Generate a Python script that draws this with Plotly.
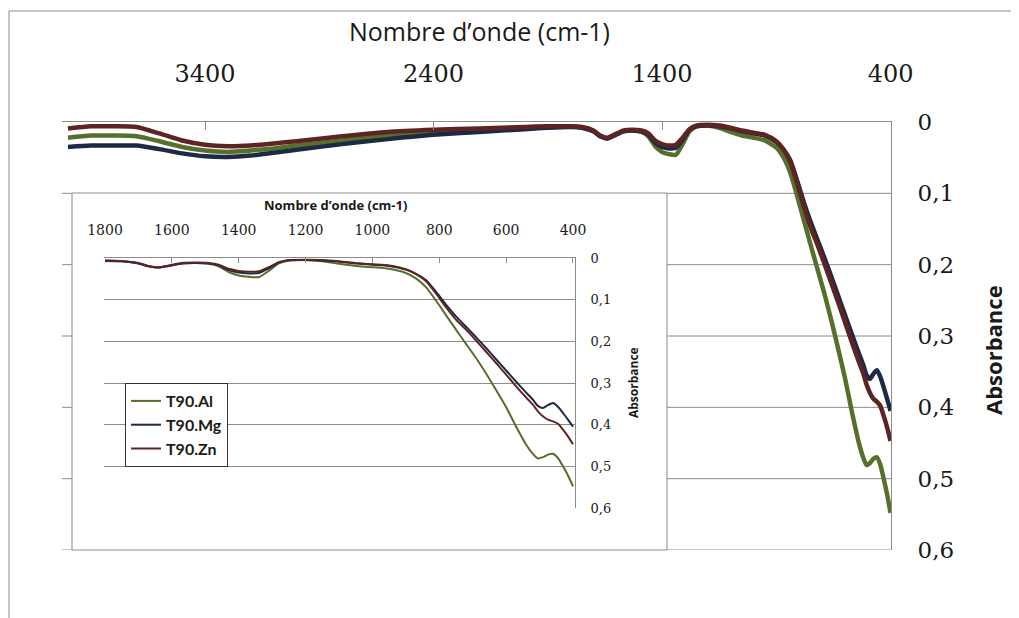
import plotly.graph_objects as go

# page body adds an 8px margin; the figure is sized to fit the 1019x618 window
OFF = 8
W, H = 1019 - OFF, 618 - OFF

# ---------------- data ----------------
wavenumber = [4000, 3900, 3800, 3700, 3600, 3500, 3400, 3300, 3200, 3100, 3000,
              2800, 2600, 2400, 2200, 2000,
              1900, 1800,
              1750, 1700, 1670, 1640, 1610, 1570, 1530, 1490, 1460, 1430,
              1400, 1370, 1340, 1310, 1280, 1250,
              1200, 1150, 1100, 1050, 1000, 950, 900,
              870, 840, 810, 780, 750, 720, 690, 660, 630, 600, 570, 540,
              520, 505, 490, 475, 460, 445, 430, 415, 400]

t90_al = [.022, .019, .019, .020, .027, .035, .040, .042, .040, .037, .033,
          .026, .019, .015, .011, .009,
          .007, .006,
          .008, .013, .020, .023, .019, .013, .012, .014, .020, .034,
          .042, .045, .046, .031, .013, .006,
          .005, .008, .014, .019, .022, .026, .036,
          .049, .070, .102, .137, .172, .206, .240, .277, .317, .358, .405, .448,
          .470, .481, .478, .472, .470, .480, .500, .522, .548]

t90_mg = [.035, .033, .033, .033, .038, .044, .048, .049, .047, .043, .039,
          .031, .024, .018, .014, .010,
          .008, .007,
          .008, .013, .020, .023, .019, .013, .012, .013, .018, .029,
          .035, .037, .036, .025, .011, .006,
          .005, .006, .009, .013, .016, .019, .028,
          .038, .053, .081, .112, .140, .165, .190, .216, .243, .270, .297, .323,
          .340, .355, .360, .353, .348, .357, .372, .388, .405]

t90_zn = [.009, .006, .006, .007, .016, .026, .032, .034, .033, .030, .027,
          .020, .014, .011, .009, .007,
          .006, .006,
          .007, .012, .019, .022, .018, .012, .011, .012, .016, .026,
          .031, .033, .032, .022, .010, .005,
          .004, .005, .008, .012, .015, .018, .027,
          .038, .055, .085, .118, .148, .172, .198, .225, .252, .280, .308, .335,
          .352, .368, .380, .388, .392, .398, .412, .428, .447]

series_names = ["T90.Al", "T90.Mg", "T90.Zn"]
series_values = [t90_al, t90_mg, t90_zn]
series_colors = ["#56702c", "#1c2a46", "#5e2424"]

main_x_ticks = [3400, 2400, 1400, 400]
inset_x_ticks = [1800, 1600, 1400, 1200, 1000, 800, 600, 400]
y_ticks = [0, 0.1, 0.2, 0.3, 0.4, 0.5, 0.6]
y_tick_text = ["0", "0,1", "0,2", "0,3", "0,4", "0,5", "0,6"]

x_title = "Nombre d’onde (cm-1)"
y_title = "Absorbance"
inset_limit = 1800

# ---------------- helpers (window pixel -> paper fraction) ----------------
def fx(p):
    return (p - OFF) / W

def fy(p):
    return 1 - (p - OFF) / H

GRID = "#8c8c8c"
SERIF = "DejaVu Serif"
SANS = "Open Sans"

fig = go.Figure()

# main traces
for name, vals, col in zip(series_names, series_values, series_colors):
    fig.add_trace(go.Scatter(
        x=wavenumber, y=vals, xaxis="x", yaxis="y", mode="lines", name=name,
        line=dict(color=col, width=4.5, shape="spline", smoothing=0.6),
        showlegend=False, hoverinfo="skip"))

# inset traces
for name, vals, col in zip(series_names, series_values, series_colors):
    xs = [w for w in wavenumber if w <= inset_limit]
    ys = [v for w, v in zip(wavenumber, vals) if w <= inset_limit]
    fig.add_trace(go.Scatter(
        x=xs, y=ys, xaxis="x2", yaxis="y2", mode="lines", name=name,
        line=dict(color=col, width=2, shape="spline", smoothing=0.6),
        showlegend=True, hoverinfo="skip"))

shapes = []
# outer chart border
shapes.append(dict(type="rect", xref="paper", yref="paper",
                   x0=fx(9), x1=fx(1040), y0=fy(640), y1=fy(11),
                   line=dict(color=GRID, width=1), layer="below"))
# main gridlines (hidden behind the inset box in the middle)
for v in y_ticks[1:]:
    for a, b in [(62, 72), (667, 891)]:
        shapes.append(dict(type="line", xref="paper", yref="y",
                           x0=fx(a), x1=fx(b), y0=v, y1=v,
                           line=dict(color=GRID, width=1), layer="below"))
# inset box
shapes.append(dict(type="rect", xref="paper", yref="paper",
                   x0=fx(72), x1=fx(667), y0=fy(550), y1=fy(193),
                   line=dict(color=GRID, width=1), fillcolor="white", layer="below"))

annotations = [
    dict(text=x_title, x=fx(479), y=fy(31), xref="paper", yref="paper",
         showarrow=False, xanchor="center", yanchor="middle",
         font=dict(family=SANS, size=25, color="#1a1a1a")),
    dict(text="<b>" + y_title + "</b>", x=fx(993), y=fy(350), xref="paper", yref="paper",
         showarrow=False, textangle=-90, xanchor="center", yanchor="middle",
         font=dict(family=SANS, size=22, color="#1a1a1a")),
    dict(text="<b>" + x_title + "</b>", x=fx(335), y=fy(205), xref="paper", yref="paper",
         showarrow=False, xanchor="center", yanchor="middle",
         font=dict(family=SANS, size=13, color="#1a1a1a")),
    dict(text="<b>" + y_title + "</b>", x=fx(633), y=fy(383), xref="paper", yref="paper",
         showarrow=False, textangle=-90, xanchor="center", yanchor="middle",
         font=dict(family=SANS, size=12, color="#1a1a1a")),
]

fig.update_layout(
    width=W, height=H, autosize=False,
    margin=dict(l=0, r=0, t=0, b=0, pad=0),
    paper_bgcolor="white", plot_bgcolor="rgba(0,0,0,0)",
    shapes=shapes, annotations=annotations,
    xaxis=dict(domain=[fx(62), fx(891)], range=[4026, 398], side="top", anchor="y",
               automargin=False,
               showline=True, linecolor=GRID, linewidth=1,
               ticks="inside", ticklen=8, tickcolor=GRID,
               tickvals=main_x_ticks, showgrid=False, zeroline=False,
               ticklabelstandoff=29,
               tickfont=dict(family=SERIF, size=24, color="#1a1a1a")),
    yaxis=dict(domain=[fy(550), fy(122)], range=[0.6, 0], side="right", anchor="x",
               automargin=False,
               showline=True, linecolor=GRID, linewidth=1, ticks="",
               tickvals=y_ticks, ticktext=y_tick_text, showgrid=False, zeroline=False,
               ticklabelstandoff=21,
               tickfont=dict(family=SERIF, size=23, color="#1a1a1a")),
    xaxis2=dict(domain=[fx(104), fx(575)], range=[1803, 394], side="top", anchor="y2",
                automargin=False,
                showline=True, linecolor=GRID, linewidth=1,
                ticks="inside", ticklen=5, tickcolor=GRID,
                tickvals=inset_x_ticks, showgrid=False, zeroline=False,
                ticklabelstandoff=16,
                tickfont=dict(family=SERIF, size=14, color="#1a1a1a")),
    yaxis2=dict(domain=[fy(508), fy(258)], range=[0.6, 0], side="right", anchor="x2",
                automargin=False,
                showline=True, linecolor=GRID, linewidth=1, ticks="",
                tickvals=y_ticks, ticktext=y_tick_text,
                showgrid=True, gridcolor=GRID, gridwidth=1, zeroline=False,
                ticklabelstandoff=12,
                tickfont=dict(family=SERIF, size=13, color="#1a1a1a")),
    legend=dict(x=fx(125), y=fy(383), xanchor="left", yanchor="top",
                bgcolor="white", bordercolor="#333333", borderwidth=1,
                font=dict(family="Lato", size=16, color="#1a1a1a", weight="bold"),
                tracegroupgap=0, itemwidth=30),
    showlegend=True,
)

fig.write_html("out.html")
